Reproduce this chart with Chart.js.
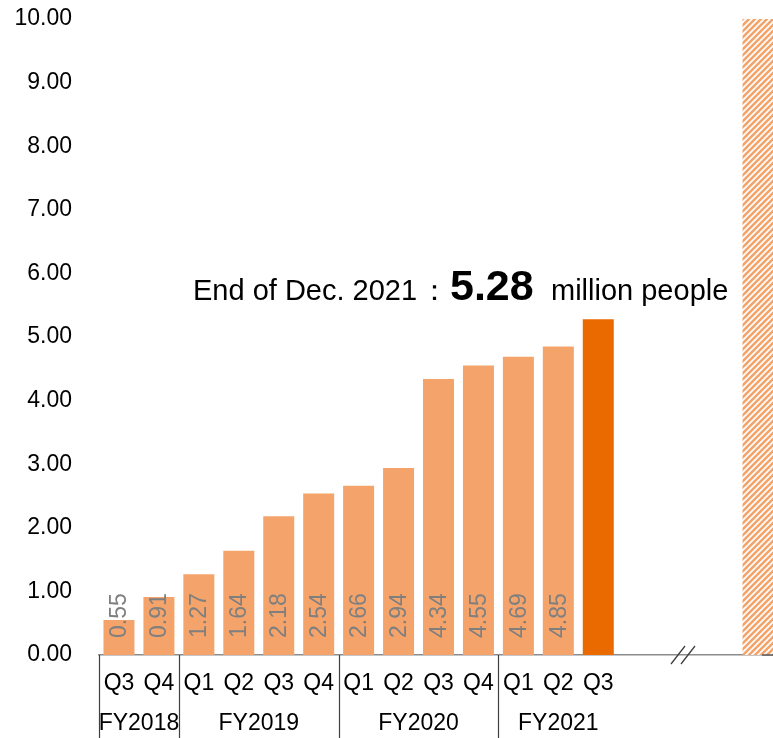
<!DOCTYPE html>
<html>
<head>
<meta charset="utf-8">
<script src="https://cdn.jsdelivr.net/npm/chart.js@4.4.1/dist/chart.umd.min.js"></script>
<style>
  html, body { margin:0; padding:0; overflow:hidden; background:#fff; }
  #wrap { width:778px; height:738px; position:relative; }
</style>
</head>
<body>
<div id="wrap"><canvas id="members"></canvas></div>
<script>
/* ---- data ---- */
const quarters = ['Q3','Q4','Q1','Q2','Q3','Q4','Q1','Q2','Q3','Q4','Q1','Q2','Q3','','','',''];
const fiscalYears = ['FY2018','FY2019','FY2020','FY2021'];
const yearSpans = [2,4,4,3];
const members = [0.55,0.91,1.27,1.64,2.18,2.54,2.66,2.94,4.34,4.55,4.69,4.85,5.28,null,null,null,null];
const target = [null,null,null,null,null,null,null,null,null,null,null,null,null,null,null,null,10];
const yTicks = [0,1,2,3,4,5,6,7,8,9,10];
const latestIndex = 12;

const LIGHT = '#F4A46A', DARK = '#EB6A00', FONT = "'Liberation Sans', Arial, sans-serif";

function hatch(){
  const c = document.createElement('canvas');
  c.width = 6; c.height = 6;
  const g = c.getContext('2d');
  g.fillStyle = '#fff'; g.fillRect(0,0,6,6);
  g.strokeStyle = LIGHT; g.lineWidth = 2.6;
  g.beginPath();
  g.moveTo(-1,7); g.lineTo(7,-1);
  g.moveTo(-4,4); g.lineTo(4,-4);
  g.moveTo(2,10); g.lineTo(10,2);
  g.stroke();
  return g.createPattern(c,'repeat');
}

const extras = {
  id:'extras',
  afterDatasetsDraw(chart){
    const {ctx, scales:{x,y}, chartArea} = chart;
    const slot = x.getPixelForValue(1) - x.getPixelForValue(0);
    const base = y.getPixelForValue(0);
    ctx.save();

    // value labels inside bars (rotated)
    ctx.fillStyle = '#7F7F7F';
    ctx.font = '23px ' + FONT;
    ctx.textAlign = 'left';
    ctx.textBaseline = 'middle';
    members.forEach((v,i)=>{
      if (v==null || i===latestIndex) return;
      ctx.save();
      ctx.translate(x.getPixelForValue(i), base - 17);
      ctx.rotate(-Math.PI/2);
      ctx.fillText(v.toFixed(2), 0, 1);
      ctx.restore();
    });

    // fiscal year groups
    ctx.strokeStyle = '#404040';
    ctx.lineWidth = 1.2;
    ctx.fillStyle = '#000';
    ctx.font = '23px ' + FONT;
    ctx.textAlign = 'center';
    let start = 0;
    fiscalYears.forEach((fy,k)=>{
      const left = x.getPixelForValue(start) - slot/2;
      const right = x.getPixelForValue(start + yearSpans[k] - 1) + slot/2;
      ctx.beginPath();
      ctx.moveTo(Math.round(left)+0.5, base);
      ctx.lineTo(Math.round(left)+0.5, chart.height);
      ctx.stroke();
      ctx.fillText(fy, (left+right)/2, 724);
      start += yearSpans[k];
    });

    // axis break mark
    ctx.strokeStyle = '#404040';
    ctx.lineWidth = 1.3;
    ctx.beginPath();
    ctx.moveTo(671, base+9); ctx.lineTo(685, base-9);
    ctx.moveTo(681, base+9); ctx.lineTo(695, base-9);
    ctx.stroke();
    // short dark stub under the target bar
    ctx.strokeStyle = '#595959';
    ctx.lineWidth = 1.5;
    ctx.beginPath();
    ctx.moveTo(762, base); ctx.lineTo(chartArea.right, base);
    ctx.stroke();

    // annotation
    const fr = '29px ' + FONT, fb = 'bold 43px ' + FONT;
    ctx.textAlign = 'left'; ctx.textBaseline = 'alphabetic'; ctx.fillStyle = '#000';
    const ty = y.getPixelForValue(members[latestIndex]) - 19;
    ctx.font = fr;
    ctx.fillText('End of Dec. 2021', 193, ty);
    ctx.fillText('：', 420, ty);
    ctx.fillText('million people', 551, ty);
    ctx.font = fb;
    ctx.fillText(members[latestIndex].toFixed(2), 450, ty);
    ctx.restore();
  }
};

new Chart(document.getElementById('members'), {
  type:'bar',
  data:{
    labels: quarters,
    datasets:[
      { data: members, backgroundColor: members.map((v,i)=> i===latestIndex ? DARK : LIGHT),
        barPercentage:0.776, categoryPercentage:1, grouped:false },
      { data: target, backgroundColor: hatch(), barPercentage:0.776, categoryPercentage:1, grouped:false }
    ]
  },
  options:{
    responsive:true, maintainAspectRatio:false, animation:false,
    layout:{ padding:{ top:19, left:0, right:0, bottom:0 } },
    plugins:{ legend:{ display:false }, tooltip:{ enabled:false } },
    scales:{
      x:{
        grid:{ display:false, drawTicks:false },
        border:{ display:true, color:'#8C8C8C', width:1.5 },
        ticks:{ color:'#000', font:{ family:FONT, size:23 }, padding:15, maxRotation:0, autoSkip:false },
        afterFit(s){ s.height = 83; }
      },
      y:{
        min:0, max:10,
        afterBuildTicks(s){ s.ticks = yTicks.map(v=>({ value:v })); },
        grid:{ display:false, drawTicks:false },
        border:{ display:false },
        ticks:{ color:'#000', font:{ family:FONT, size:23 }, padding:27, callback:(v)=> Number(v).toFixed(2) },
        afterFit(s){ s.width = 99; s.paddingTop = 0; s.paddingBottom = 0; }
      }
    }
  },
  plugins:[extras]
});
</script>
</body>
</html>
